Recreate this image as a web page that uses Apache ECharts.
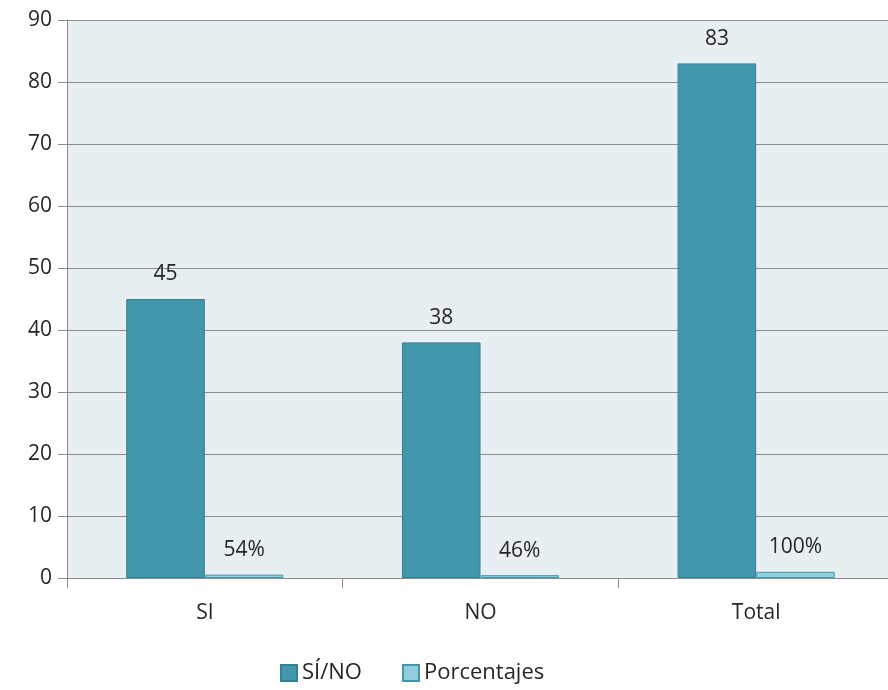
<!DOCTYPE html>
<html>
<head>
<meta charset="utf-8">
<script src="https://cdn.jsdelivr.net/npm/echarts@6/dist/echarts.min.js"></script>
<style>
  html, body { margin: 0; padding: 0; background: #ffffff; }
  #chart { width: 888px; height: 690px; }
</style>
</head>
<body>
<div id="chart"></div>
<script>
var categories = ['SI', 'NO', 'Total'];
var siNoValues = [45, 38, 83];
var percentValues = [0.54, 0.46, 1.0];
var percentLabels = ['54%', '46%', '100%'];

var myChart = echarts.init(document.getElementById('chart'));
var font = 'Open Sans';

var option = {
  animation: false,
  textStyle: { fontFamily: font },
  grid: {
    left: 67,
    width: 827,
    top: 20,
    bottom: 112,
    outerBoundsMode: 'none',
    containLabel: false,
    show: true,
    backgroundColor: '#e8eff3',
    borderWidth: 0
  },
  legend: {
    bottom: 1,
    left: 275,
    icon: 'rect',
    itemWidth: 16,
    itemHeight: 16,
    itemGap: 40,
    textStyle: { fontFamily: font, fontSize: 22, color: '#262626' },
    data: ['SÍ/NO', 'Porcentajes']
  },
  xAxis: {
    type: 'category',
    data: categories,
    axisLine: { lineStyle: { color: '#8c8c8c', width: 1 } },
    axisTick: { show: true, length: 10, lineStyle: { color: '#8c8c8c' } },
    axisLabel: { fontSize: 21, color: '#262626', margin: 25 }
  },
  yAxis: {
    type: 'value',
    min: 0,
    max: 90,
    interval: 10,
    axisLine: { show: true, lineStyle: { color: '#8c8c8c', width: 1 } },
    axisTick: { show: true, length: 9, lineStyle: { color: '#8c8c8c' } },
    axisLabel: { fontSize: 21, color: '#262626', margin: 15 },
    splitLine: { lineStyle: { color: '#8c8c8c', width: 1 } }
  },
  series: [
    {
      name: 'SÍ/NO',
      type: 'bar',
      data: siNoValues,
      barCategoryGap: '43%',
      barGap: '0%',
      itemStyle: { color: '#4397ad', borderColor: '#357f93', borderWidth: 1 },
      label: {
        show: true,
        position: 'top',
        distance: 14,
        fontSize: 21,
        color: '#262626'
      }
    },
    {
      name: 'Porcentajes',
      type: 'bar',
      data: percentValues,
      itemStyle: { color: '#93cddd', borderColor: '#4397ad', borderWidth: 1 },
      label: {
        show: true,
        position: 'top',
        distance: 14,
        fontSize: 21,
        color: '#262626',
        formatter: function (p) { return percentLabels[p.dataIndex]; }
      }
    }
  ]
};

myChart.setOption(option);
</script>
</body>
</html>
